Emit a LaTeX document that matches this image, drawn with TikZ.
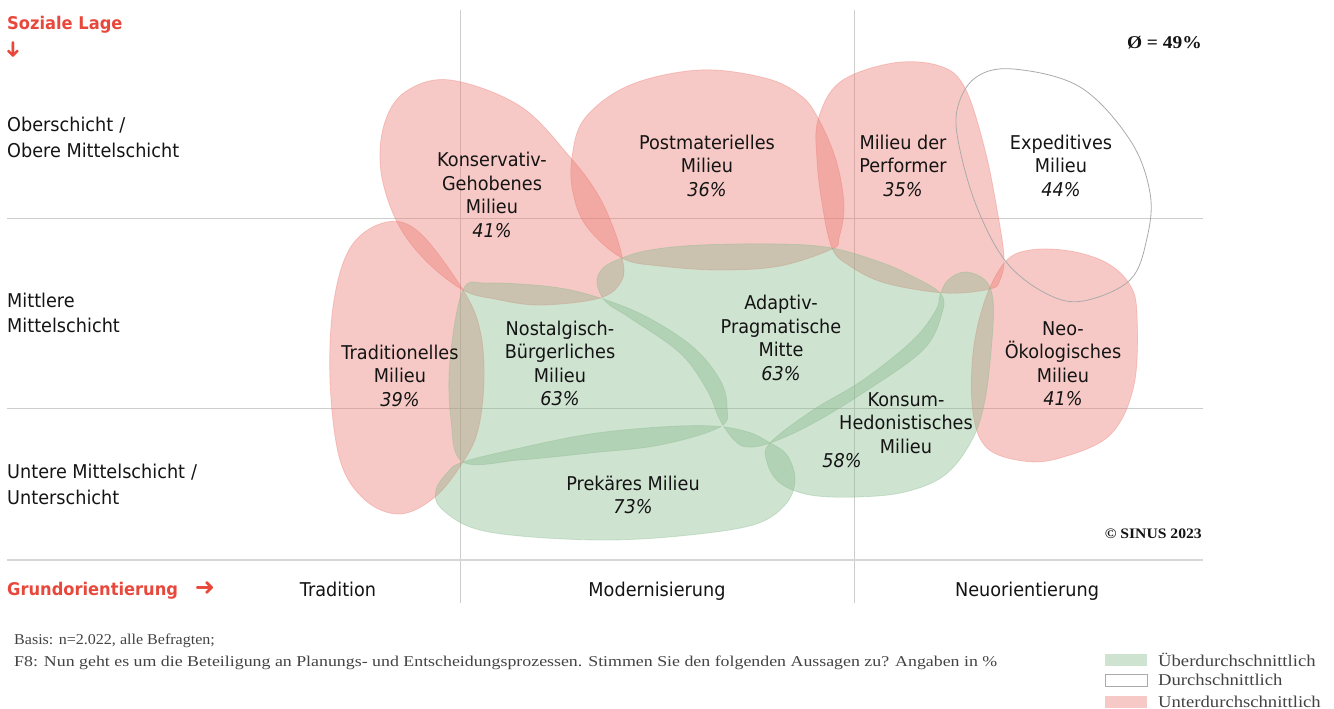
\documentclass[tikz,border=0pt]{standalone}
\usepackage{fontspec}
\newfontfamily\sansf[FakeStretch=0.93]{DejaVu Sans}
\newfontfamily\symf{DejaVu Sans}
\newfontfamily\serf[FakeStretch=1.08]{Liberation Serif}
\newfontfamily\serA[FakeStretch=1.07]{Liberation Serif}
\newfontfamily\serB[FakeStretch=1.19]{Liberation Serif}
\newfontfamily\serL[FakeStretch=1.13]{Liberation Serif}
\definecolor{redblob}{RGB}{235,120,112}
\definecolor{greenblob}{RGB}{135,185,140}
\definecolor{accent}{RGB}{232,72,60}
\definecolor{gridc}{RGB}{205,205,205}
\definecolor{txt}{RGB}{20,20,20}
\definecolor{outl}{RGB}{170,170,170}
\newcommand{\pctx}[1]{{\itshape #1}}
\begin{document}
\begin{tikzpicture}[x=1pt,y=-1pt,
  redblob/.style={fill=redblob, fill opacity=0.4, draw=redblob, draw opacity=0.35, line width=0.8pt},
  greenblob/.style={fill=greenblob, fill opacity=0.4, draw=greenblob, draw opacity=0.35, line width=0.8pt},
  avgblob/.style={draw=outl, line width=0.8pt},
  gridl/.style={draw=gridc, line width=0.9pt},
  lbl/.style={font=\sansf\fontsize{19}{23.5}\selectfont, align=center, text=txt, inner sep=0pt},
  axl/.style={font=\sansf\fontsize{19}{25.5}\selectfont, align=left, text=txt, inner sep=0pt, anchor=west},
  axh/.style={font=\sansf\bfseries\fontsize{17.5}{20}\selectfont, text=accent, inner sep=0pt},
  oril/.style={font=\sansf\fontsize{19}{23}\selectfont, text=txt, inner sep=0pt, anchor=base},
  note/.style={text=txt!80, inner sep=0pt, anchor=base west},
  legt/.style={font=\serL\fontsize{16.5}{18}\selectfont, text=txt!80, inner sep=0pt, anchor=base west},
  legbox/.style={minimum width=42pt, minimum height=12pt, inner sep=0pt},
  smooth blob/.style={smooth cycle, tension=0.6}
]
\useasboundingbox (0,0) rectangle (1334,709);
% grid
\draw[gridl] (460,10) -- (460,603);
\draw[gridl] (854,10) -- (854,603);
\draw[gridl] (7,218) -- (1203,218);
\draw[gridl] (7,408) -- (1203,408);
\draw[draw=gridc!80, line width=1.4pt] (7,560) -- (1203,560);

% red blobs
\path[redblob] plot[smooth blob] coordinates {(450,80) (520,106) (570,157) (597,193) (613,227) (622,257) (622,280) (600,298) (540,305) (495,299) (463,290) (425,260) (397,222) (381,172) (384,125) (405,92)};
\path[redblob] plot[smooth blob] coordinates {(700,70) (765,78) (800,95) (818,118) (836,160) (844,205) (839,238) (832,249) (780,266) (720,270) (660,266) (622,258) (587,227) (573,193) (572,157) (585,118) (630,85)};
\path[redblob] plot[smooth blob] coordinates {(832,248) (822,203) (817,160) (818,120) (840,82) (893,63) (940,66) (965,88) (985,150) (998,215) (1004,258) (1000,280) (990,289) (945,293) (885,283) (850,266)};
\path[redblob] plot[smooth blob] coordinates {(1005,262) (1030,250) (1070,251) (1107,263) (1130,285) (1137,315) (1134,385) (1110,435) (1060,458) (1023,461) (987,448) (973,413) (973,353) (985,300)};
\path[redblob] plot[smooth blob] coordinates {(463,290) (480,330) (484,380) (478,430) (463,462) (435,497) (400,514) (365,500) (340,460) (330,380) (334,300) (352,245) (387,222) (420,233)};
% green blobs
\path[greenblob] plot[smooth blob] coordinates {(463,290) (487,283) (553,287) (600,298) (647,317) (693,347) (720,380) (727,407) (720,427) (660,445) (590,453) (520,460) (463,462) (451,420) (450,360)};
\path[greenblob] plot[smooth blob] coordinates {(622,258) (603,268) (597,283) (606,302) (630,318) (680,353) (707,390) (720,420) (735,441) (748,447) (770,443) (810,425) (863,393) (923,350) (942,313) (940,293) (910,275) (880,262) (832,248) (780,244) (700,245) (650,250)};
\path[greenblob] plot[smooth blob] coordinates {(770,443) (767,462) (780,483) (810,495) (857,497) (905,492) (945,475) (972,440) (985,400) (992,340) (993,300) (985,280) (965,272) (948,280) (940,295) (936,310) (913,340) (863,380) (813,410)};
\path[greenblob] plot[smooth blob] coordinates {(463,462) (520,448) (590,434) (660,427) (713,426) (748,432) (770,443) (787,455) (795,480) (785,505) (753,525) (680,536) (603,540) (520,536) (470,527) (440,507) (436,490) (447,473)};
% average blob
\path[avgblob] plot[smooth blob] coordinates {(957,110) (975,78) (1013,69) (1080,87) (1130,140) (1150,193) (1147,238) (1130,280) (1083,301) (1047,294) (1007,263) (978,210) (960,150)};

% milieu labels
\node[lbl] (kg) at (492,195) {Konservativ-\\Gehobenes\\Milieu\\\pctx{41\%}};
\node[lbl] (pm) at (707,165.5) {Postmaterielles\\Milieu\\\pctx{36\%}};
\node[lbl] (pf) at (903,165.5) {Milieu der\\Performer\\\pctx{35\%}};
\node[lbl] (ex) at (1061,165.5) {Expeditives\\Milieu\\\pctx{44\%}};
\node[lbl] (tr) at (400,375.5) {Traditionelles\\Milieu\\\pctx{39\%}};
\node[lbl] (nb) at (560,363.5) {Nostalgisch-\\Bürgerliches\\Milieu\\\pctx{63\%}};
\node[lbl] (ap) at (781,338) {Adaptiv-\\Pragmatische\\Mitte\\\pctx{63\%}};
\node[lbl] (no) at (1063,363.5) {Neo-\\Ökologisches\\Milieu\\\pctx{41\%}};
\node[lbl] (kh) at (906,423) {Konsum-\\Hedonistisches\\Milieu};
\node[lbl] (khp) at (842,461) {\pctx{58\%}};
\node[lbl] (pr) at (633,495) {Prekäres Milieu\\\pctx{73\%}};

% axis labels
\node[axh, anchor=west] (sl) at (7,25) {Soziale Lage};
\node[inner sep=0pt, text=accent, font=\symf\fontsize{22}{24}\selectfont, rotate=-90] (slarr) at (13,50) {➜};
\node[axl] (ob) at (7,137.5) {Oberschicht\hspace{6pt}/\\Obere Mittelschicht};
\node[axl] (mi) at (7,313) {Mittlere\\Mittelschicht};
\node[axl] (un) at (7,484.5) {Untere Mittelschicht\hspace{6pt}/\\Unterschicht};
\node[axh, anchor=base west] (go) at (7,595) {Grundorientierung};
\node[inner sep=0pt, text=accent, font=\symf\fontsize{24}{26}\selectfont] (goarr) at (205,589) {➜};
\node[oril] (tra) at (338,596) {Tradition};
\node[oril] (mod) at (657,596) {Modernisierung};
\node[oril] (neu) at (1027,596) {Neuorientierung};

% annotations
\node[font=\serf\bfseries\fontsize{18}{20}\selectfont, inner sep=0pt, anchor=base east, text=txt] (avg) at (1202,49) {Ø = 49\%};
\node[font=\serf\bfseries\fontsize{14.5}{16}\selectfont, inner sep=0pt, anchor=base east, text=txt] (copy) at (1202,538) {© SINUS 2023};
\node[note, font=\serA\fontsize{15}{17}\selectfont] (basis) at (14,644) {Basis: n=2.022, alle Befragten;};
\node[note, font=\serB\fontsize{15}{17}\selectfont] (f8) at (14,666) {F8: Nun geht es um die Beteiligung an Planungs- und Entscheidungsprozessen. Stimmen Sie den folgenden Aussagen zu? Angaben in \%};

% legend
\node[legbox, fill=greenblob, fill opacity=0.4, anchor=north west] (lg1) at (1105,654) {};
\node[legbox, draw=outl, line width=0.8pt, anchor=north west] (lg2) at (1105,674) {};
\node[legbox, fill=redblob, fill opacity=0.4, anchor=north west] (lg3) at (1105,696) {};
\node[legt] (lt1) at (1158,666) {Überdurchschnittlich};
\node[legt] (lt2) at (1158,685) {Durchschnittlich};
\node[legt] (lt3) at (1158,707) {Unterdurchschnittlich};
\end{tikzpicture}
\end{document}
